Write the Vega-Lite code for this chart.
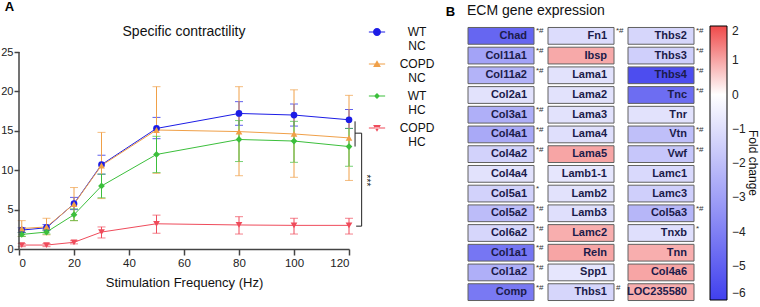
{
  "$schema": "https://vega.github.io/schema/vega-lite/v6.json",
  "padding": {"left": 0, "top": 0, "right": 0, "bottom": 0},
  "bounds": "flush",
  "spacing": 112,
  "config": {"font": "Liberation Sans", "view": {"stroke": null}},
  "datasets": {
    "contr": [
      {"series": "WT NC", "freq": 1, "mean": 2.4, "lo": 2.1, "hi": 2.7},
      {"series": "WT NC", "freq": 10, "mean": 2.7, "lo": 2.4, "hi": 3.1},
      {"series": "WT NC", "freq": 20, "mean": 5.75, "lo": 5.0, "hi": 6.55},
      {"series": "WT NC", "freq": 30, "mean": 10.7, "lo": 9.5, "hi": 11.9},
      {"series": "WT NC", "freq": 50, "mean": 15.3, "lo": 14.0, "hi": 16.7},
      {"series": "WT NC", "freq": 80, "mean": 17.2, "lo": 15.7, "hi": 18.7},
      {"series": "WT NC", "freq": 100, "mean": 17.0, "lo": 15.6, "hi": 18.4},
      {"series": "WT NC", "freq": 120, "mean": 16.4, "lo": 15.3, "hi": 17.7},
      {"series": "COPD NC", "freq": 1, "mean": 2.6, "lo": 1.6, "hi": 3.6},
      {"series": "COPD NC", "freq": 10, "mean": 2.8, "lo": 1.8, "hi": 3.9},
      {"series": "COPD NC", "freq": 20, "mean": 5.7, "lo": 3.6, "hi": 7.8},
      {"series": "COPD NC", "freq": 30, "mean": 10.6, "lo": 6.4, "hi": 14.8},
      {"series": "COPD NC", "freq": 50, "mean": 15.1, "lo": 9.6, "hi": 20.6},
      {"series": "COPD NC", "freq": 80, "mean": 14.9, "lo": 9.3, "hi": 20.6},
      {"series": "COPD NC", "freq": 100, "mean": 14.6, "lo": 9.1, "hi": 20.2},
      {"series": "COPD NC", "freq": 120, "mean": 14.1, "lo": 8.7, "hi": 19.5},
      {"series": "WT HC", "freq": 1, "mean": 1.85, "lo": 1.6, "hi": 2.1},
      {"series": "WT HC", "freq": 10, "mean": 2.15, "lo": 1.9, "hi": 2.4},
      {"series": "WT HC", "freq": 20, "mean": 4.35, "lo": 3.6, "hi": 5.1},
      {"series": "WT HC", "freq": 30, "mean": 8.0, "lo": 6.5, "hi": 9.5},
      {"series": "WT HC", "freq": 50, "mean": 12.0, "lo": 9.7, "hi": 14.3},
      {"series": "WT HC", "freq": 80, "mean": 13.9, "lo": 11.1, "hi": 16.3},
      {"series": "WT HC", "freq": 100, "mean": 13.7, "lo": 11.0, "hi": 16.2},
      {"series": "WT HC", "freq": 120, "mean": 13.0, "lo": 10.5, "hi": 15.3},
      {"series": "COPD HC", "freq": 1, "mean": 0.5, "lo": 0.3, "hi": 0.7},
      {"series": "COPD HC", "freq": 10, "mean": 0.5, "lo": 0.3, "hi": 0.7},
      {"series": "COPD HC", "freq": 20, "mean": 0.85, "lo": 0.65, "hi": 1.05},
      {"series": "COPD HC", "freq": 30, "mean": 2.15, "lo": 1.4, "hi": 2.8},
      {"series": "COPD HC", "freq": 50, "mean": 3.2, "lo": 2.0, "hi": 4.3},
      {"series": "COPD HC", "freq": 80, "mean": 3.05, "lo": 1.9, "hi": 4.1},
      {"series": "COPD HC", "freq": 100, "mean": 3.0, "lo": 1.9, "hi": 3.9},
      {"series": "COPD HC", "freq": 120, "mean": 3.0, "lo": 1.9, "hi": 3.9}
    ],
    "bracket": [
      {"x": 122.2, "x2": 122.2, "y": 16.2, "y2": 13.0},
      {"x": 122.2, "x2": 124.6, "y": 14.7, "y2": 14.7},
      {"x": 124.6, "x2": 124.6, "y": 14.7, "y2": 2.9},
      {"x": 122.6, "x2": 124.6, "y": 2.9, "y2": 2.9}
    ],
    "stars": [{"x": 126.3, "y": 8.7, "label": "***"}],
    "genes": [
      {"gene": "Chad", "col": 1, "row": 1, "fc": -4.8, "sig": "*#"},
      {"gene": "Col11a1", "col": 1, "row": 2, "fc": -2.9, "sig": "*#"},
      {"gene": "Col11a2", "col": 1, "row": 3, "fc": -2.4, "sig": "*#"},
      {"gene": "Col2a1", "col": 1, "row": 4, "fc": -0.9, "sig": ""},
      {"gene": "Col3a1", "col": 1, "row": 5, "fc": -2.5, "sig": "*#"},
      {"gene": "Col4a1", "col": 1, "row": 6, "fc": -2.7, "sig": "*#"},
      {"gene": "Col4a2", "col": 1, "row": 7, "fc": -1.4, "sig": "*#"},
      {"gene": "Col4a4", "col": 1, "row": 8, "fc": -0.9, "sig": ""},
      {"gene": "Col5a1", "col": 1, "row": 9, "fc": -1.4, "sig": "*"},
      {"gene": "Col5a2", "col": 1, "row": 10, "fc": -2.1, "sig": "*#"},
      {"gene": "Col6a2", "col": 1, "row": 11, "fc": -1.3, "sig": "*#"},
      {"gene": "Col1a1", "col": 1, "row": 12, "fc": -4.3, "sig": "*#"},
      {"gene": "Col1a2", "col": 1, "row": 13, "fc": -2.5, "sig": "*#"},
      {"gene": "Comp", "col": 1, "row": 14, "fc": -4.2, "sig": "*#"},
      {"gene": "Fn1", "col": 2, "row": 1, "fc": -1.1, "sig": "*#"},
      {"gene": "Ibsp", "col": 2, "row": 2, "fc": 0.95, "sig": ""},
      {"gene": "Lama1", "col": 2, "row": 3, "fc": -0.9, "sig": ""},
      {"gene": "Lama2", "col": 2, "row": 4, "fc": -0.9, "sig": ""},
      {"gene": "Lama3", "col": 2, "row": 5, "fc": -0.9, "sig": ""},
      {"gene": "Lama4", "col": 2, "row": 6, "fc": -1.0, "sig": ""},
      {"gene": "Lama5", "col": 2, "row": 7, "fc": 1.0, "sig": ""},
      {"gene": "Lamb1-1", "col": 2, "row": 8, "fc": -0.8, "sig": ""},
      {"gene": "Lamb2", "col": 2, "row": 9, "fc": -0.9, "sig": ""},
      {"gene": "Lamb3", "col": 2, "row": 10, "fc": -1.0, "sig": ""},
      {"gene": "Lamc2", "col": 2, "row": 11, "fc": 0.9, "sig": ""},
      {"gene": "Reln", "col": 2, "row": 12, "fc": 1.0, "sig": ""},
      {"gene": "Spp1", "col": 2, "row": 13, "fc": -0.8, "sig": ""},
      {"gene": "Thbs1", "col": 2, "row": 14, "fc": -1.3, "sig": "#"},
      {"gene": "Thbs2", "col": 3, "row": 1, "fc": -1.3, "sig": "*#"},
      {"gene": "Thbs3", "col": 3, "row": 2, "fc": -1.5, "sig": "*#"},
      {"gene": "Thbs4", "col": 3, "row": 3, "fc": -5.6, "sig": "*#"},
      {"gene": "Tnc", "col": 3, "row": 4, "fc": -4.6, "sig": "*#"},
      {"gene": "Tnr", "col": 3, "row": 5, "fc": -0.9, "sig": ""},
      {"gene": "Vtn", "col": 3, "row": 6, "fc": -2.0, "sig": "*#"},
      {"gene": "Vwf", "col": 3, "row": 7, "fc": -1.8, "sig": "*#"},
      {"gene": "Lamc1", "col": 3, "row": 8, "fc": -1.2, "sig": ""},
      {"gene": "Lamc3", "col": 3, "row": 9, "fc": -1.5, "sig": ""},
      {"gene": "Col5a3", "col": 3, "row": 10, "fc": -2.3, "sig": "*#"},
      {"gene": "Tnxb", "col": 3, "row": 11, "fc": -1.0, "sig": "*"},
      {"gene": "Tnn", "col": 3, "row": 12, "fc": 0.9, "sig": ""},
      {"gene": "Col4a6", "col": 3, "row": 13, "fc": 1.0, "sig": ""},
      {"gene": "LOC235580", "col": 3, "row": 14, "fc": 0.9, "sig": ""}
    ]
  },
  "hconcat": [
    {
      "width": 330,
      "height": 223,
      "title": {"text": "Specific contractility", "fontSize": 14, "fontWeight": "normal", "color": "#111", "offset": -39},
      "resolve": {"scale": {"color": "independent", "shape": "independent"}},
      "layer": [
        {
          "data": {"name": "contr"},
          "mark": {"type": "errorbar", "ticks": {"size": 8}, "thickness": 1},
          "encoding": {
            "x": {"field": "freq", "type": "quantitative", "scale": {"domain": [0, 120], "nice": false},
              "axis": {"values": [0, 10, 20, 30, 40, 50, 60, 70, 80, 90, 100, 110, 120], "grid": false, "title": "Stimulation Frequency (Hz)", "titleFontSize": 13, "titleFontWeight": "normal", "titleColor": "#111", "titlePadding": 8, "labelFontSize": 11.5, "labelColor": "#222", "domainColor": "#444", "domainWidth": 1.5, "tickColor": "#444", "tickWidth": 1.5, "tickSize": 6}},
            "y": {"field": "lo", "type": "quantitative", "scale": {"domain": [0, 28.3], "nice": false},
              "axis": {"values": [0, 5, 10, 15, 20, 25], "grid": false, "domain": false, "title": "A", "titleAngle": 0, "titleX": -10, "titleY": -20, "titleAlign": "center", "titleBaseline": "middle", "titleFontSize": 13, "titleFontWeight": "bold", "titleColor": "#000", "labelFontSize": 11, "labelPadding": 1, "labelColor": "#222", "tickColor": "#444", "tickWidth": 1.5, "tickSize": 5}},
            "y2": {"field": "hi"},
            "color": {"field": "series", "type": "nominal", "scale": {"domain": ["WT NC", "COPD NC", "WT HC", "COPD HC"], "range": ["#1c1ce6", "#f0a048", "#3cbf3c", "#ef4b5b"]}, "legend": null}
          }
        },
        {
          "data": {"name": "contr"},
          "mark": {"type": "line", "strokeWidth": 1},
          "encoding": {
            "x": {"field": "freq", "type": "quantitative"},
            "y": {"field": "mean", "type": "quantitative"},
            "color": {"field": "series", "type": "nominal", "scale": {"domain": ["WT NC", "COPD NC", "WT HC", "COPD HC"], "range": ["#1c1ce6", "#f0a048", "#3cbf3c", "#ef4b5b"]}, "legend": null}
          }
        },
        {
          "data": {"name": "contr"},
          "mark": {"type": "point", "filled": true, "opacity": 1, "size": 45},
          "encoding": {
            "x": {"field": "freq", "type": "quantitative"},
            "y": {"field": "mean", "type": "quantitative"},
            "color": {"field": "series", "type": "nominal", "scale": {"domain": ["WT NC", "COPD NC", "WT HC", "COPD HC"], "range": ["#1c1ce6", "#f0a048", "#3cbf3c", "#ef4b5b"]}, "legend": null},
            "shape": {"field": "series", "type": "nominal", "scale": {"domain": ["WT NC", "COPD NC", "WT HC", "COPD HC"], "range": ["circle", "triangle-up", "diamond", "triangle-down"]}, "legend": null}
          }
        },
        {
          "data": {"name": "contr"},
          "transform": [{"filter": "datum.freq < 0"}],
          "mark": {"type": "point", "filled": true, "opacity": 1},
          "encoding": {
            "x": {"field": "freq", "type": "quantitative"},
            "y": {"field": "mean", "type": "quantitative"},
            "color": {"field": "series", "type": "nominal", "scale": {"domain": ["WT NC", "COPD NC", "WT HC", "COPD HC"], "range": ["#1c1ce6", "#f0a048", "#3cbf3c", "#ef4b5b"]},
              "legend": {"title": null, "orient": "right", "offset": 20, "labelExpr": "split(datum.label, ' ')", "labelAlign": "center", "labelOffset": 34, "labelFontSize": 12, "labelColor": "#111", "rowPadding": 6, "symbolSize": 50}},
            "shape": {"field": "series", "type": "nominal", "scale": {"domain": ["WT NC", "COPD NC", "WT HC", "COPD HC"], "range": [
              "M-2.3,-0.14H2.3V0.14H-2.3Z M1.13,0A1.13,1.13,0,1,1,-1.13,0A1.13,1.13,0,1,1,1.13,0Z",
              "M-2.3,-0.14H2.3V0.14H-2.3Z M0,-1.05L1.1,0.85L-1.1,0.85Z",
              "M-2.3,-0.14H2.3V0.14H-2.3Z M0,-0.85L0.85,0L0,0.85L-0.85,0Z",
              "M-2.3,-0.14H2.3V0.14H-2.3Z M0,1.05L1.1,-0.85L-1.1,-0.85Z"
            ]},
              "legend": {"title": null, "orient": "right", "offset": 20, "labelExpr": "split(datum.label, ' ')", "labelAlign": "center", "labelOffset": 34, "labelFontSize": 12, "labelColor": "#111", "rowPadding": 6, "symbolSize": 50}}
          }
        },
        {
          "data": {"name": "bracket"},
          "mark": {"type": "rule", "color": "#222", "strokeWidth": 1},
          "encoding": {
            "x": {"field": "x", "type": "quantitative"},
            "x2": {"field": "x2"},
            "y": {"field": "y", "type": "quantitative"},
            "y2": {"field": "y2"}
          }
        },
        {
          "data": {"name": "stars"},
          "mark": {"type": "text", "angle": 90, "fontSize": 10, "color": "#222"},
          "encoding": {
            "x": {"field": "x", "type": "quantitative"},
            "y": {"field": "y", "type": "quantitative"},
            "text": {"field": "label"}
          }
        },
        {
          "data": {"values": [{}]},
          "mark": {"type": "rule", "color": "#444", "strokeWidth": 1.5},
          "encoding": {
            "x": {"datum": 0, "type": "quantitative"},
            "y": {"datum": 0, "type": "quantitative"},
            "y2": {"datum": 25}
          }
        }
      ]
    },
    {
      "width": 240,
      "height": 276,
      "data": {"name": "genes"},
      "title": {"text": "ECM gene expression", "anchor": "start", "frame": "group", "fontSize": 14, "fontWeight": "normal", "color": "#111", "offset": -13, "dx": 6},
      "encoding": {
        "x": {"field": "col", "type": "ordinal", "scale": {"paddingInner": 0.175, "paddingOuter": 0.0875},
          "axis": {"orient": "top", "labels": false, "ticks": false, "domain": false, "title": "B", "titleAngle": 0, "titleX": -11, "titleY": -15, "titleAlign": "center", "titleBaseline": "middle", "titleFontSize": 13, "titleFontWeight": "bold", "titleColor": "#000"}},
        "y": {"field": "row", "type": "ordinal", "scale": {"paddingInner": 0.15, "paddingOuter": 0.075}, "axis": null}
      },
      "layer": [
        {
          "mark": {"type": "rect", "stroke": "#606060", "strokeWidth": 1},
          "encoding": {
            "color": {"field": "fc", "type": "quantitative", "scale": {"domain": [-6, 0, 2], "range": ["#4040ee", "#ffffff", "#ef4a4a"], "interpolate": "rgb"},
              "legend": {"title": "Fold change", "orient": "right", "offset": 6, "direction": "vertical", "gradientLength": 274, "gradientThickness": 17, "gradientStrokeColor": "#000", "gradientStrokeWidth": 1, "values": [2, 1, 0, -1, -2, -3, -4, -5, -6], "labelFontSize": 12, "labelOffset": 5, "labelColor": "#222", "titleOrient": "right", "titleAngle": 270, "titleAnchor": "middle", "titlePadding": 0, "titleFontSize": 12, "titleFontWeight": "normal", "titleColor": "#111", "titleBaseline": "bottom"}}
          }
        },
        {
          "mark": {"type": "text", "align": "right", "baseline": "middle", "dx": -7, "fontWeight": "bold", "fontSize": 11, "color": "#1b1b4a"},
          "encoding": {
            "x": {"field": "col", "type": "ordinal", "bandPosition": 1},
            "text": {"field": "gene"}
          }
        },
        {
          "mark": {"type": "text", "align": "left", "baseline": "top", "dx": 2, "dy": 0, "fontSize": 8, "color": "#333"},
          "encoding": {
            "x": {"field": "col", "type": "ordinal", "bandPosition": 1},
            "y": {"field": "row", "type": "ordinal", "bandPosition": 0},
            "text": {"field": "sig"}
          }
        }
      ]
    }
  ]
}
